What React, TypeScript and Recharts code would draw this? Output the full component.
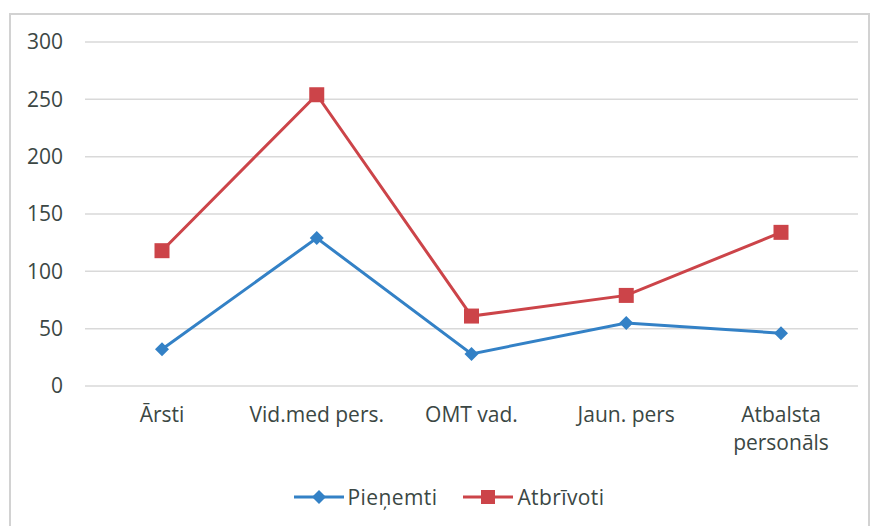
import React from 'react';
import { LineChart, Line, XAxis, YAxis, CartesianGrid, Legend } from 'recharts';

const categories = ['Ārsti', 'Vid.med pers.', 'OMT vad.', 'Jaun. pers', 'Atbalsta\npersonāls'];
const pienemti = [32, 129, 28, 55, 46];
const atbrivoti = [118, 254, 61, 79, 134];
const yTicks = [0, 50, 100, 150, 200, 250, 300];

const BLUE = '#3381C6';
const RED = '#CC4449';
const TEXT = '#3B4744';
const FONT = '"Open Sans", sans-serif';
const FS = 21;

const data = categories.map((c, i) => ({ name: c, p: pienemti[i], a: atbrivoti[i] }));

const Diamond = (props: any) => {
  const { cx, cy, index } = props;
  if (cx == null || cy == null) return <g key={index} />;
  const r = 7;
  return (
    <polygon
      key={index}
      points={`${cx},${cy - r} ${cx + r},${cy} ${cx},${cy + r} ${cx - r},${cy}`}
      fill={BLUE}
    />
  );
};

const Square = (props: any) => {
  const { cx, cy, index } = props;
  if (cx == null || cy == null) return <g key={index} />;
  const s = 15;
  return <rect key={index} x={cx - s / 2} y={cy - s / 2} width={s} height={s} fill={RED} />;
};

const XTick = (props: any) => {
  const { x, y, payload } = props;
  const lines = String(payload.value).split('\n');
  return (
    <g transform={`translate(${x},${y})`}>
      {lines.map((l, i) => (
        <text
          key={i}
          x={0}
          y={i * 28}
          dy="0.71em"
          textAnchor="middle"
          fill={TEXT}
          fontSize={FS}
          fontFamily={FONT}
        >
          {l}
        </text>
      ))}
    </g>
  );
};

const LegendContent = () => (
  <div
    style={{
      height: 40,
      paddingTop: 3,
      boxSizing: 'border-box',
      paddingLeft: 40,
      display: 'flex',
      justifyContent: 'center',
      alignItems: 'center',
      fontFamily: FONT,
      fontSize: FS,
      letterSpacing: 0.4,
      color: TEXT,
    }}
  >
    <svg width={50} height={16} style={{ marginRight: 4 }}>
      <line x1={0} y1={8} x2={50} y2={8} stroke={BLUE} strokeWidth={3} />
      <polygon points="25,1 32,8 25,15 18,8" fill={BLUE} />
    </svg>
    <span style={{ marginRight: 26 }}>Pieņemti</span>
    <svg width={50} height={16} style={{ marginRight: 4 }}>
      <line x1={0} y1={8} x2={50} y2={8} stroke={RED} strokeWidth={3} />
      <rect x={18} y={1} width={14} height={14} fill={RED} />
    </svg>
    <span>Atbrīvoti</span>
  </div>
);

export default function App() {
  return (
    <div style={{ position: 'absolute', left: 0, top: 0, width: 873, height: 526, background: '#fff', overflow: 'hidden' }}>
      <div
        style={{
          position: 'absolute',
          left: 9,
          top: 13,
          width: 861,
          height: 530,
          border: '2px solid #d2d2d2',
          boxSizing: 'border-box',
        }}
      />
      <div style={{ position: 'absolute', left: 0, top: 0 }}>
        <LineChart width={873} height={526} data={data} margin={{ top: 42, right: 15, bottom: 11, left: 0 }}>
          <CartesianGrid vertical={false} stroke="#d9d9d9" strokeWidth={1.5} />
          <XAxis
            dataKey="name"
            axisLine={false}
            tickLine={false}
            tick={<XTick />}
            tickSize={6}
            tickMargin={15}
            height={89}
            interval={0}
            padding={{ left: 77, right: 77 }}
          />
          <YAxis
            domain={[0, 300]}
            ticks={yTicks}
            axisLine={false}
            tickLine={false}
            width={85}
            tickMargin={16}
            tick={{ fill: TEXT, fontSize: FS, fontFamily: FONT }}
          />
          <Legend verticalAlign="bottom" content={<LegendContent />} />
          <Line
            dataKey="p"
            name="Pieņemti"
            stroke={BLUE}
            strokeWidth={3}
            dot={<Diamond />}
            activeDot={false}
            isAnimationActive={false}
          />
          <Line
            dataKey="a"
            name="Atbrīvoti"
            stroke={RED}
            strokeWidth={3}
            dot={<Square />}
            activeDot={false}
            isAnimationActive={false}
          />
        </LineChart>
      </div>
    </div>
  );
}
